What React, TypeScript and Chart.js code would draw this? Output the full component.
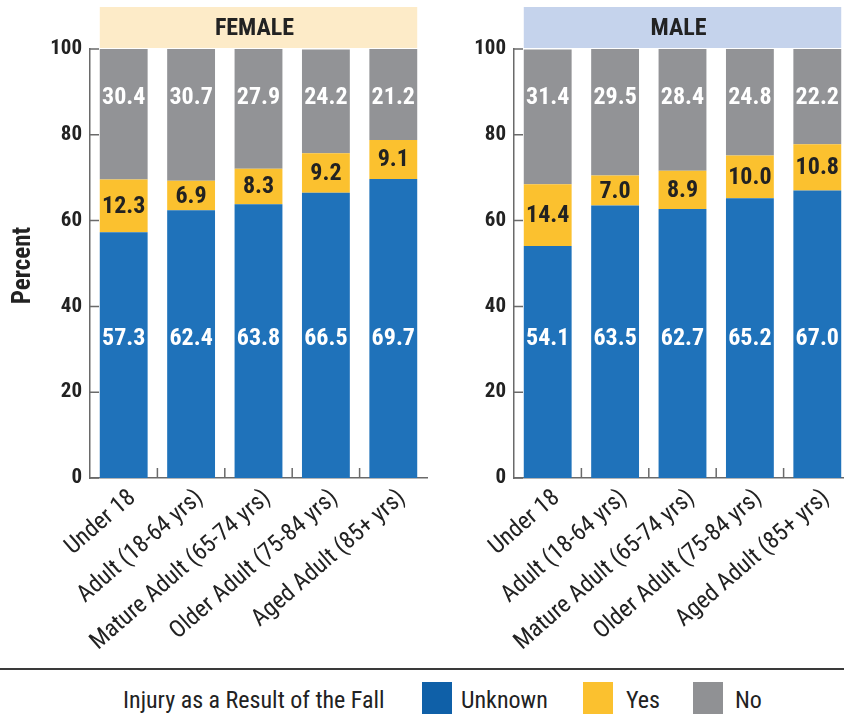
import React, { useEffect, useRef } from 'react';
import { Chart, registerables } from 'chart.js';

Chart.register(...registerables);

const categories = [
  'Under 18',
  'Adult (18-64 yrs)',
  'Mature Adult (65-74 yrs)',
  'Older Adult (75-84 yrs)',
  'Aged Adult (85+ yrs)',
];

const femaleUnknown = [57.3, 62.4, 63.8, 66.5, 69.7];
const femaleYes = [12.3, 6.9, 8.3, 9.2, 9.1];
const femaleNo = [30.4, 30.7, 27.9, 24.2, 21.2];

const maleUnknown = [54.1, 63.5, 62.7, 65.2, 67.0];
const maleYes = [14.4, 7.0, 8.9, 10.0, 10.8];
const maleNo = [31.4, 29.5, 28.4, 24.8, 22.2];

const seriesNames = ['Unknown', 'Yes', 'No'];
const yTickValues = [0, 20, 40, 60, 80, 100];

const FONT = "'Roboto Condensed', 'Liberation Sans Narrow', 'DejaVu Sans Condensed', sans-serif";
const BLUE = '#1f72ba';
const YELLOW = '#fbc12f';
const GRAY = '#929396';
const AXIS = '#6a6a6a';
const TEXT = '#222222';

const panelPlugin = {
  id: 'panelPlugin',
  beforeDraw(chart: any, _args: any, opts: any) {
    const ctx = chart.ctx;
    const { top } = chart.chartArea;
    const meta = chart.getDatasetMeta(0);
    const first: any = meta.data[0];
    const last: any = meta.data[meta.data.length - 1];
    if (!first || !last) return;
    const x1 = first.x - first.width / 2;
    const x2 = last.x + last.width / 2;
    ctx.save();
    ctx.fillStyle = opts.bandColor;
    ctx.fillRect(x1, 7, x2 - x1, top - 8);
    ctx.fillStyle = TEXT;
    ctx.font = `bold 24px ${FONT}`;
    ctx.textAlign = 'center';
    ctx.textBaseline = 'middle';
    ctx.fillText(opts.title, (x1 + x2) / 2 - 4, 28.5);
    ctx.restore();
  },
  afterDatasetsDraw(chart: any, _args: any, opts: any) {
    const ctx = chart.ctx;
    const yScale = chart.scales.y;
    ctx.save();
    ctx.font = `bold 24px ${FONT}`;
    ctx.textAlign = 'center';
    ctx.textBaseline = 'middle';
    chart.data.datasets.forEach((ds: any, di: number) => {
      const meta = chart.getDatasetMeta(di);
      meta.data.forEach((bar: any, i: number) => {
        const v = ds.data[i];
        let yy: number;
        if (di === 0) {
          yy = yScale.getPixelForValue(opts.unknownLabelAt);
          ctx.fillStyle = '#ffffff';
        } else if (di === 1) {
          yy = (bar.y + bar.base) / 2;
          ctx.fillStyle = TEXT;
        } else {
          yy = yScale.getPixelForValue(opts.noLabelAt);
          ctx.fillStyle = '#ffffff';
        }
        ctx.fillText(v.toFixed(1), bar.x, yy + 1);
      });
    });
    ctx.restore();
  },
  afterDraw(chart: any) {
    const ctx = chart.ctx;
    const { left, bottom } = chart.chartArea;
    const xScale = chart.scales.x;
    const yScale = chart.scales.y;
    ctx.save();
    ctx.strokeStyle = AXIS;
    ctx.lineWidth = 1.5;
    ctx.beginPath();
    yTickValues.forEach((v) => {
      const py = yScale.getPixelForValue(v);
      ctx.moveTo(left, py);
      ctx.lineTo(left + 9, py);
    });
    for (let i = 0; i < categories.length - 1; i++) {
      const px = xScale.getPixelForValue(i + 0.5);
      ctx.moveTo(px, bottom);
      ctx.lineTo(px, bottom - 10);
    }
    ctx.stroke();
    ctx.restore();
  },
};

function makeConfig(title: string, bandColor: string, unknown: number[], yes: number[], no: number[]): any {
  const values = [unknown, yes, no];
  const colors = [BLUE, YELLOW, GRAY];
  return {
    type: 'bar',
    data: {
      labels: categories,
      datasets: seriesNames.map((name, i) => ({
        label: name,
        data: values[i],
        backgroundColor: colors[i],
        borderWidth: 0,
        barPercentage: 0.71,
        categoryPercentage: 1,
      })),
    },
    options: {
      responsive: false,
      animation: false,
      layout: { padding: { top: 49, left: 0, right: 3, bottom: 0 } },
      plugins: {
        legend: { display: false },
        tooltip: { enabled: false },
        title: { display: false },
        panelPlugin: { title, bandColor, unknownLabelAt: 32.6, noLabelAt: 88.8 },
      },
      scales: {
        x: {
          stacked: true,
          grid: { display: false, drawTicks: false },
          border: { display: true, color: AXIS, width: 1.5 },
          ticks: {
            color: TEXT,
            font: { family: FONT, size: 24 },
            minRotation: 41,
            maxRotation: 41,
            padding: 6,
            labelOffset: 9,
            autoSkip: false,
          },
          afterFit(scale: any) {
            scale.height = 187;
          },
        },
        y: {
          stacked: true,
          min: 0,
          max: 100,
          grid: { display: false, drawTicks: false },
          border: { display: true, color: AXIS, width: 1.5 },
          afterBuildTicks(scale: any) {
            scale.ticks = yTickValues.map((v) => ({ value: v }));
          },
          ticks: {
            color: TEXT,
            font: { family: FONT, size: 21, weight: 'bold' },
            padding: 8,
          },
          title: { display: false },
          afterFit(scale: any) {
            scale.width = 90;
          },
        },
      },
    },
    plugins: [panelPlugin],
  };
}

function Panel(props: { left: number; title: string; band: string; unknown: number[]; yes: number[]; no: number[] }) {
  const ref = useRef<HTMLCanvasElement | null>(null);
  useEffect(() => {
    if (!ref.current) return;
    const chart = new Chart(ref.current, makeConfig(props.title, props.band, props.unknown, props.yes, props.no));
    return () => chart.destroy();
  }, []);
  return (
    <canvas
      ref={ref}
      width={430}
      height={665}
      style={{ position: 'absolute', left: props.left, top: 0, width: 430, height: 665 }}
    />
  );
}

const legendItems = [
  { name: seriesNames[0], color: '#0f60a8', box: 422, text: 461 },
  { name: seriesNames[1], color: '#fbc12f', box: 583, text: 626 },
  { name: seriesNames[2], color: '#909194', box: 693, text: 735 },
];

const legendText: React.CSSProperties = {
  position: 'absolute',
  top: 684,
  fontSize: 24,
  lineHeight: '32px',
  color: TEXT,
  whiteSpace: 'nowrap',
};

export default function App() {
  return (
    <div
      style={{
        position: 'fixed',
        left: 0,
        top: 0,
        width: 844,
        height: 719,
        overflow: 'hidden',
        background: '#ffffff',
        fontFamily: FONT,
      }}
    >
      <Panel left={0} title="FEMALE" band="#fdebc8" unknown={femaleUnknown} yes={femaleYes} no={femaleNo} />
      <Panel left={424} title="MALE" band="#c5d3ec" unknown={maleUnknown} yes={maleYes} no={maleNo} />
      <div
        style={{
          position: 'absolute',
          left: 8,
          top: 250,
          width: 28,
          height: 30,
          display: 'flex',
          alignItems: 'center',
          justifyContent: 'center',
        }}
      >
        <span
          style={{
            transform: 'rotate(-90deg)',
            whiteSpace: 'nowrap',
            fontWeight: 'bold',
            fontSize: 25,
            color: TEXT,
          }}
        >
          Percent
        </span>
      </div>
      <div style={{ position: 'absolute', left: 0, top: 668, width: 844, height: 2, background: '#3a3a3a' }} />
      <div style={{ ...legendText, left: 123 }}>Injury as a Result of the Fall</div>
      {legendItems.map((it) => (
        <React.Fragment key={it.name}>
          <div style={{ position: 'absolute', left: it.box, top: 682, width: 30, height: 32, background: it.color }} />
          <div style={{ ...legendText, left: it.text }}>{it.name}</div>
        </React.Fragment>
      ))}
    </div>
  );
}
